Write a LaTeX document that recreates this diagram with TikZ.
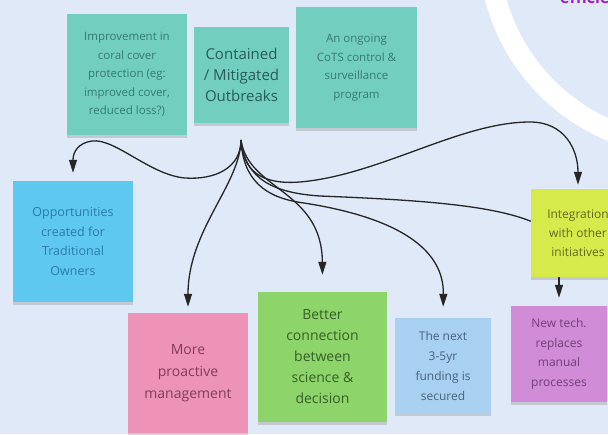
\documentclass[tikz,border=0pt]{standalone}
\usepackage{fontspec}
\setmainfont{Open Sans}
\usetikzlibrary{arrows.meta,shadows}
\definecolor{bg}{HTML}{DFE9F8}
\definecolor{teal}{HTML}{72CFC0}
\definecolor{tealtxt}{HTML}{357A70}
\definecolor{tealdark}{HTML}{285B55}
\definecolor{cyanst}{HTML}{5FC8F1}
\definecolor{cyantxt}{HTML}{2A7DA6}
\definecolor{pinkst}{HTML}{EE93B8}
\definecolor{pinktxt}{HTML}{803D5B}
\definecolor{greenst}{HTML}{8DD46B}
\definecolor{greentxt}{HTML}{375F25}
\definecolor{bluest}{HTML}{A8D0F0}
\definecolor{bluetxt}{HTML}{46627E}
\definecolor{limest}{HTML}{D6EA4C}
\definecolor{limetxt}{HTML}{626C1C}
\definecolor{purplest}{HTML}{D08CD6}
\definecolor{purpletxt}{HTML}{733E7A}
\definecolor{headpurple}{HTML}{A020C8}
\begin{document}
\begin{tikzpicture}[x=1pt,y=-1pt,
  sticky/.style={rectangle, inner sep=2pt, align=center,
    font=\fontsize{11.5}{18.5}\selectfont,
    drop shadow={shadow xshift=0pt, shadow yshift=-3pt, opacity=0.3}},
  conn/.style={draw=black!85, line width=1.3pt},
  arr/.style={conn, -{Triangle[length=13pt,width=8pt]}},
]
\useasboundingbox (0,0) rectangle (608,434);
\clip (0,0) rectangle (608,434);
\fill[bg] (0,0) rectangle (608,434);
% white ring
\draw[white, line width=21pt] (687,-52) circle[radius=198pt];
\node[anchor=base west, inner sep=0pt, text=headpurple, font=\bfseries\fontsize{16}{16}\selectfont] (eff) at (560,3) {efficie};

% stickies
\node[sticky, fill=teal, text=tealtxt, minimum width=120pt, minimum height=121pt] (imp) at (127,74.5)
  {Improvement in\\coral cover\\protection (eg:\\improved cover,\\reduced loss?)};
\node[sticky, fill=teal, text=tealdark, minimum width=95pt, minimum height=96pt,
  font=\fontsize{15}{21}\selectfont] (cont) at (241.5,75)
  {Contained\\/ Mitigated\\Outbreaks};
\node[sticky, fill=teal, text=tealtxt, minimum width=121pt, minimum height=121pt] (cots) at (356.5,67.5)
  {An ongoing\\CoTS control \&\\surveillance\\program};
\node[sticky, fill=cyanst, text=cyantxt, minimum width=120pt, minimum height=121pt,
  font=\fontsize{12.5}{19.5}\selectfont] (opp) at (73,241.5)
  {Opportunities\\created for\\Traditional\\Owners};
\node[sticky, fill=pinkst, text=pinktxt, minimum width=120pt, minimum height=120pt,
  font=\fontsize{14}{22}\selectfont] (pro) at (188,373)
  {More\\proactive\\management};
\node[sticky, fill=greenst, text=greentxt, minimum width=129pt, minimum height=130pt,
  font=\fontsize{14}{21}\selectfont] (sci) at (322.5,357)
  {Better\\connection\\between\\science \&\\decision};
\node[sticky, fill=bluest, text=bluetxt, minimum width=96pt, minimum height=95pt,
  font=\fontsize{12}{20}\selectfont] (fund) at (443,365.5)
  {The next\\3-5yr\\funding is\\secured};
\node[sticky, fill=limest, text=limetxt, minimum width=94pt, minimum height=88pt,
  font=\fontsize{12}{19}\selectfont] (integ) at (578,233)
  {Integration\\with other\\initiatives};
\node[sticky, fill=purplest, text=purpletxt, minimum width=96pt, minimum height=96pt,
  font=\fontsize{12}{19.5}\selectfont] (newt) at (559,354)
  {New tech.\\replaces\\manual\\processes};

% connectors
\coordinate (src) at (241,140);
\draw[arr, shorten >=8pt] (src) .. controls (241,168) and (215,180) .. (185,178)
  .. controls (150,175) and (115,138) .. (92,141)
  .. controls (78,143) and (73,152) .. (opp.north);
\draw[arr, shorten >=6pt] (src) .. controls (240,185) and (188,230) .. (pro.north);
\draw[arr, shorten >=17pt] (src) .. controls (248,190) and (322,190) .. (sci.north);
\draw[arr, shorten >=11pt] (src) .. controls (243,180) and (265,198) .. (304,203)
  .. controls (400,218) and (444,250) .. (fund.north);
\draw[conn] (src) .. controls (245,180) and (275,193) .. (320,196)
  .. controls (420,200) and (490,205) .. (integ.166);
\draw[arr, shorten >=4pt] (src) .. controls (243,170) and (260,185) .. (300,182)
  .. controls (380,175) and (460,122) .. (530,122)
  .. controls (565,122) and (578,150) .. (integ.north);
\draw[conn, line width=1.8pt] (src) -- ++(0,10);
\draw[arr, shorten >=8pt] (integ.south -| newt.north) -- (newt.north);
\end{tikzpicture}
\end{document}
